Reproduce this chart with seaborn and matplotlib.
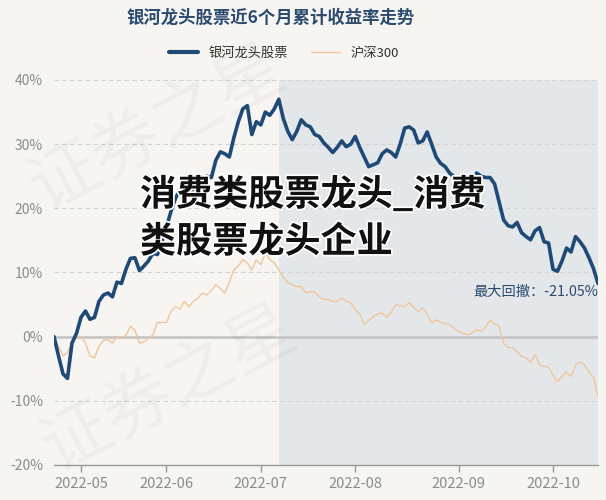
import matplotlib.pyplot as plt
import matplotlib.patheffects as pe
import pandas as pd
import seaborn as sns

# trading days 2022-04-22 .. 2022-10-24 (exchange holidays removed)
holidays = ['2022-05-02', '2022-05-03', '2022-05-04', '2022-06-03', '2022-09-12',
            '2022-10-03', '2022-10-04', '2022-10-05', '2022-10-06', '2022-10-07']
dates = pd.bdate_range('2022-04-22', '2022-10-24')
dates = dates[~dates.isin(pd.to_datetime(holidays))]

# cumulative return, %
stock = [0, -3, -5.8, -6.5, -1, 0.5, 3, 4, 2.7, 3,
         5.5, 6.5, 6.8, 6.2, 8.5, 8.3, 10.5, 12.2, 12.3, 10.3,
         11, 11.8, 13, 12.8, 14.8, 17, 19.5, 21.5, 23, 22.6,
         22, 22.8, 22.5, 24, 25, 24.8, 27.5, 28.8, 28.5, 28,
         31, 33.5, 35.5, 36, 31.5, 33.5, 33, 35, 34.5, 35.5,
         37, 34, 32, 30.7, 32, 33.8, 33, 32.7, 31.5, 31.2,
         30.2, 29.5, 28.7, 29.5, 30.5, 29.6, 30, 31.2, 29.5, 28,
         26.5, 26.8, 27.1, 28.5, 29.1, 28.7, 28, 30, 32.5, 32.7,
         32.2, 30.2, 30.5, 31.9, 30, 28, 27, 26.5, 25.5, 24.9,
         23.5, 23, 23.5, 24.5, 25.5, 25, 24.8, 24.8, 23.8, 21,
         18.2, 17.3, 17.1, 17.8, 16.2, 15.6, 15.1, 16.5, 17, 14.8,
         14.6, 10.5, 10.2, 11.8, 13.8, 13.2, 15.6, 14.8, 13.8, 12.3,
         10.6, 8.3]
hs300 = [0, -1.5, -3, -2.5, -1, 0, 0, -1, -3, -3.3,
         -1.5, -0.6, -0.5, -1, 0, -0.2, 0.2, 1.6, 1, -1,
         -0.8, -0.3, 0.3, 2.2, 2.2, 2.2, 3.9, 4.7, 4.3, 5.5,
         4.7, 5.5, 6, 6.8, 6.5, 7.2, 8.1, 7.5, 6.8, 8.5,
         10.4, 11, 12, 11.5, 10.4, 12, 11.2, 13.1, 12, 11.5,
         10.4, 9.3, 8.4, 8.1, 7.8, 7.8, 6.8, 7, 7, 6.2,
         5.8, 5.8, 5.5, 5.5, 6, 5.5, 5.3, 4.2, 3.5, 1.9,
         2.5, 3.1, 3.5, 3.7, 3, 3.8, 5, 4.8, 4.7, 5.3,
         4.6, 3.9, 4.5, 3.5, 2.2, 2.6, 2.3, 2.0, 1.9, 1.3,
         0.8, 0.5, 0.3, 0.6, 1.1, 0.8, 1.5, 2.6, 2, 1.6,
         -1, -1.7, -1.7, -2.3, -3.1, -3.3, -4, -2.8, -4.4, -4.6,
         -4.8, -6, -7, -6.2, -5.5, -6.2, -4.5, -3.9, -4.4, -5.5,
         -6.4, -9.3]
series_names = ['银河龙头股票', '沪深300']
peak_idx = 50
max_drawdown = '-21.05%'
yticks = [-20, -10, 0, 10, 20, 30, 40]

df = pd.DataFrame({'idx': range(len(dates)), 'date': dates, 'stock': stock, 'hs300': hs300})

sns.set_theme(style='white')
plt.rcParams['font.family'] = ['Noto Sans CJK SC', 'DejaVu Sans']
bg = '#f7f5f1'
blue = '#1f4a78'
orange = '#f0c59a'

fig = plt.figure(figsize=(6.06, 5.0), dpi=100, facecolor=bg)
ax = fig.add_axes([54 / 606, 35 / 500, 544 / 606, 385 / 500])
ax.set_facecolor(bg)

# max drawdown span
ax.axvspan(peak_idx, len(df) - 1, color='#e4e7ea', zorder=0, lw=0)

for v in yticks:
    if v == 0:
        ax.axhline(v, color='#c6c6c6', lw=2, zorder=1)
    elif v != -20:
        ax.axhline(v, color='#d2d2d2', lw=0.8, ls=(0, (4, 3)), zorder=1)

sns.lineplot(data=df, x='idx', y='hs300', color=orange, lw=1, ax=ax, zorder=3)
sns.lineplot(data=df, x='idx', y='stock', color=blue, lw=2.6, ax=ax, zorder=4)

ax.set_xlim(0, len(df) - 1)
ax.set_ylim(-20, 40)
ax.set_yticks(yticks)
ax.set_yticklabels([f'{v}%' for v in yticks])

month_pos = [i for i in range(1, len(df)) if dates[i].month != dates[i - 1].month]
ax.set_xticks(month_pos)
ax.set_xticklabels([dates[i].strftime('%Y-%m') for i in month_pos])
ax.set_xlabel('')
ax.set_ylabel('')
ax.tick_params(axis='x', length=5, width=1, color='#999999', direction='out',
               labelsize=10.5, labelcolor='#8c8c8c', pad=4)
ax.tick_params(axis='y', length=0, labelsize=10, labelcolor='#8c8c8c', pad=8)
ax.xaxis.set_ticks_position('bottom')
for s in ['top', 'right', 'left']:
    ax.spines[s].set_visible(False)
ax.spines['bottom'].set_color('#999999')
ax.spines['bottom'].set_linewidth(1)

ax.text(len(df) - 1, 7.0, f'最大回撤：{max_drawdown}', ha='right', va='center',
        fontsize=10.3, color='#2b4a6e', zorder=5)

# title + legend
fig.text(271 / 606, 1 - 18 / 500, '银河龙头股票近6个月累计收益率走势', ha='center', va='center',
         fontsize=12.5, fontweight='heavy', color='#2b4c6f')
handles = [plt.Line2D([], [], color=blue, lw=3), plt.Line2D([], [], color=orange, lw=1)]
fig.legend(handles, series_names, loc='center', bbox_to_anchor=(284 / 606, 1 - 53 / 500),
           ncol=2, frameon=False, fontsize=9.5, handlelength=2.2, columnspacing=1.8,
           labelcolor='#333333')

# watermark
for x, y in [(0.03, 0.55), (0.05, 0.03)]:
    fig.text(x, y, '证券之星', fontsize=50, color='#000000', alpha=0.035, rotation=28,
             ha='left', va='bottom', zorder=0)

# overlay headline
fx = dict(fontsize=26, fontweight='heavy', color='#111111', ha='left', va='center',
          path_effects=[pe.withStroke(linewidth=2.5, foreground='white')], zorder=10)
fig.text(140 / 606, 1 - 195 / 500, '消费类股票龙头_消费', **fx)
fig.text(140 / 606, 1 - 242 / 500, '类股票龙头企业', **fx)

fig.savefig('out.png', dpi=100, facecolor=bg)
